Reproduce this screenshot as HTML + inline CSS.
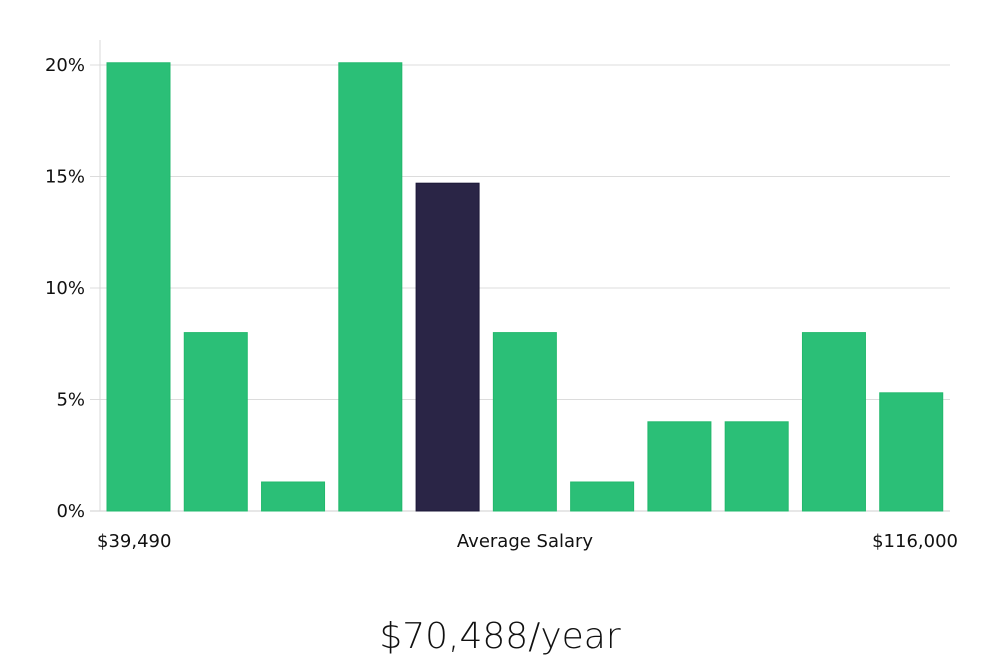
<!DOCTYPE html>
<html><head><meta charset="utf-8"><style>
body{margin:0;background:#fff;width:1000px;height:660px;overflow:hidden}
svg{display:block}
text{font-family:"DejaVu Sans","Liberation Sans",sans-serif}
</style></head><body>
<svg id="chart" width="1000" height="660" xmlns="http://www.w3.org/2000/svg">
<g id="grid"></g>
<g id="bars"></g>
<line x1="100" y1="40" x2="100" y2="511" stroke="#d8d8d8" stroke-width="1"/>
<text x="97" y="547" font-size="18" fill="#111">$39,490</text>
<text x="525" y="547" font-size="18" fill="#111" text-anchor="middle">Average Salary</text>
<text x="958" y="547" font-size="18" fill="#111" text-anchor="end">$116,000</text>
<text x="500" y="648" font-size="36" fill="#111" text-anchor="middle" font-family="Liberation Sans, sans-serif" font-weight="300">$70,488/year</text>
</svg>
<script>
const values=[20.1,8,1.3,20.1,14.7,8,1.3,4,4,8,5.3];
const highlightIndex=4;
const ticks=[0,5,10,15,20];
const tickLabels=["0%","5%","10%","15%","20%"];
const X0=100,X1=950,Y0=511,YTOP=65,YMAX=20;
const y=v=>Y0-(v/YMAX)*(Y0-YTOP);
const slot=(X1-X0)/values.length;
const x=i=>X0+i*slot+7;
const ns="http://www.w3.org/2000/svg";
const grid=document.getElementById('grid'),bars=document.getElementById('bars');
ticks.forEach((t,i)=>{
 const l=document.createElementNS(ns,'line');
 
 
 l.setAttribute('x1',90);l.setAttribute('x2',X1);l.setAttribute('y1',y(t));l.setAttribute('y2',y(t));
 l.setAttribute('stroke',t===0?'#cfcfcf':'#dcdcdc');l.setAttribute('stroke-width',1);
 grid.appendChild(l);
 const tx=document.createElementNS(ns,'text');
 
 
 tx.setAttribute('x',85);tx.setAttribute('y',y(t)+6);tx.setAttribute('text-anchor','end');
 tx.setAttribute('font-size',18);tx.setAttribute('fill','#111');tx.textContent=tickLabels[i];
 grid.appendChild(tx);
});
values.forEach((v,i)=>{
 const r=document.createElementNS(ns,'rect');
 
 
 r.setAttribute('x',x(i));r.setAttribute('width',63);
 r.setAttribute('y',y(v));r.setAttribute('height',Y0-y(v));
 const hi=i===highlightIndex;
 r.setAttribute('fill',hi?'#2a2546':'#2bbf77');
 r.setAttribute('stroke',hi?'#1c1838':'#22b86c');r.setAttribute('stroke-width',1);
 bars.appendChild(r);
});
</script>
</body></html>
